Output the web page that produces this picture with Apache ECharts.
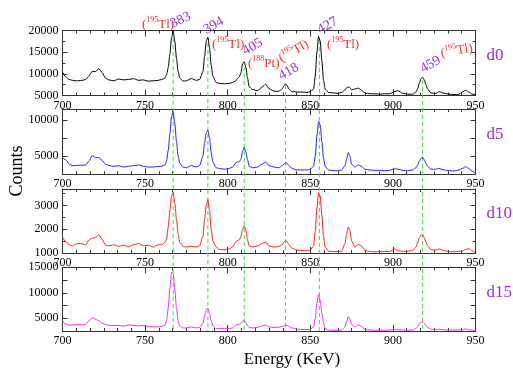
<!DOCTYPE html>
<html>
<head>
<meta charset="utf-8">
<script src="https://cdn.jsdelivr.net/npm/echarts@6/dist/echarts.min.js"></script>
<style>html,body{margin:0;padding:0;background:#fff}#c{width:513px;height:369px}</style>
</head>
<body>
<div id="c"></div>
<script>
// ---------------- data ----------------
const energy = [700,702,704,706,708,710,712,714,716,718,720,722,724,726,728,731,734,737,740,743,746,749,752,755,758,
760,762,763,764,765,766,767,768,769,770,771,773,
775,778,781,783,785,786,787,788,789,790,791,793,
795,798,801,803,805,806,807,808,809,810,811,812,813,
815,818,821,823,825,828,831,833,834,835,836,837,839,
842,845,848,850,852,853,854,855,856,857,858,859,861,
864,867,869,871,872,873,874,875,877,879,881,883,
886,889,892,895,898,901,903,906,909,912,914,915,916,917,918,919,920,921,923,
926,928,931,934,937,940,942,944,946,948,950];

const countsD0 = [10400,9300,8700,8500,8400,8400,8500,8700,9500,10600,10500,11200,10300,9000,8600, 8400,8800,8600,8700,8900,8500,8600,8300,8400,8500,
8700,9000,9800,11500,14500,18300,19900,17500,13500,10500,9000,8300,
8400,8900,8500,8700,10500,14000,17500,18500,16000,12000,9500,8000,
7800,7700,7800,8000,8400,9000,9300,10200,12300,12800,11500,9000,7000,
6400,6100,7000,7600,6600,6000,6000,6500,7200,7700,7300,6500,5900,
5800,5800,5700,5900,6500,9500,15000,18600,17600,13000,8500,6500,5700,
5600,5500,5700,6300,6800,7000,6800,6300,6500,6700,6200,5600,
5400,5400,5300,5400,5400,5900,6100,5500,5300,5300,5800,6600,7800,8900,9200,8600,7500,6500,5600,
5500,5900,5500,5300,5200,5300,5800,6200,5800,5300,5200];

const countsD5 = [4800,4500,3900,3700,3700,3750,3750,3800,4300,5100,4800,4800,4400,3900,3700, 3600,3700,3500,3600,3700,3800,3600,3500,3500,3600,
3600,3800,4300,5800,8000,10500,11100,9500,7000,5000,4000,3500,
3400,3700,3500,3700,5000,6800,8200,8600,7500,5500,4200,3400,
3300,3200,3300,3500,4100,4200,4200,4600,5700,6200,5600,4500,3600,
3400,3500,3900,4200,3700,3500,3400,3700,3900,4100,4000,3700,3300,
3100,3100,3100,3200,3600,5000,7800,9800,9300,7000,4800,3600,3100,
3000,3000,3100,3700,4600,5500,5000,3900,3500,3800,3600,3200,
3100,3050,3050,3000,3050,3250,3200,3050,3000,3100,3400,3800,4300,4700,4850,4500,4000,3600,3200,
3200,3300,3100,3000,2950,3100,3300,3550,3300,2900,2650];

const countsD10 = [1670,1480,1350,1290,1380,1400,1390,1330,1550,1620,1660,1770,1580,1330,1300, 1350,1280,1330,1260,1350,1400,1300,1330,1250,1350,
1350,1450,1600,2100,2800,3400,3550,3100,2400,1800,1450,1280,
1250,1280,1250,1300,1700,2400,3000,3250,2800,2000,1500,1250,
1150,1130,1180,1250,1480,1520,1550,1700,2000,2150,1950,1550,1300,
1250,1300,1400,1460,1300,1250,1270,1350,1450,1530,1480,1350,1200,
1120,1110,1100,1120,1300,1900,2900,3550,3400,2600,1700,1250,1080,
1060,1070,1080,1400,1800,2100,1950,1500,1250,1360,1300,1120,
1060,1050,1060,1060,1060,1170,1100,1070,1080,1100,1250,1450,1650,1760,1770,1650,1450,1300,1150,
1120,1170,1100,1060,1050,1070,1080,1150,1180,1100,990];

const countsD15 = [4400,3900,3650,3700,3750,3750,3700,3800,4500,5100,4800,4500,4000,3800,3600, 3550,3600,3450,3700,3600,3500,3600,3400,3300,3300,
3400,3600,4500,7000,11000,14000,13800,10500,7000,4500,3500,3100,
3100,3300,3100,3200,4000,5500,6700,7000,6000,4500,3500,3000,
3000,2950,3000,3100,3600,3800,3800,4000,4400,4550,4200,3600,3200,
3100,3200,3500,3650,3300,3200,3250,3350,3500,3650,3600,3400,3100,
2850,2800,2800,2850,3300,5000,8000,9600,8500,6000,4000,3000,2700,
2650,2650,2700,3300,4400,5300,4900,3800,3300,3700,3400,2800,
2700,2650,2650,2650,2700,2800,2750,2700,2650,2700,3000,3400,3900,4250,4300,4000,3600,3200,2850,
2800,2850,2750,2700,2700,2700,2750,2900,2750,2650,2500];

const panelNames = ['d0', 'd5', 'd10', 'd15'];
const yMins = [5000, 2500, 1000, 2500];
const yMaxs = [20000, 11500, 3700, 15000];
const yIntervals = [5000, 2500, 1000, 2500];
const yLabelStep = [5000, 5000, 1000, 5000];
const xTicks = [700, 750, 800, 850, 900, 950];

// reference lines (energy, start count in top panel)
const refLineEnergy = [767, 788, 810, 835, 855.5, 918];
const refLineStart = [18270, 17120, 11580, 7420, 17810, 8580];

// annotations in top panel data coordinates
const annotText = ['383', '394', '405', '418', '427', '459'];
const annotEnergy = [767.5, 788.1, 811.7, 833.5, 857.1, 919.4];
const annotCount = [19900, 18500, 13650, 7890, 18500, 9500];
const annotRot = [25, 30, 30, 30, 30, 30];

const isoMass = ['195', '195', '188', '195', '195', '195'];
const isoElem = ['Tl', 'Tl', 'Pt', 'Tl', 'Tl', 'Tl'];
const isoEnergy = [748.1, 790.5, 812.3, 833.5, 860.1, 929.7];
const isoCount = [19900, 15270, 10890, 12040, 15270, 13190];
const isoRot = [0, 0, 0, 30, 0, 10];

// ---------------- chart ----------------
const FONT = "'Liberation Serif', 'Times New Roman', serif";
const lineColors = ['#000000', '#2222ff', '#ff2020', '#ff22ff'];
const gridTops = [30.5, 109, 189, 267.3];
const gridHeights = [65, 65.3, 64, 63.7];
const PURPLE = '#9a2fd6';
const RED = '#ff2a2a';
const AXC = '#333';

const chart = echarts.init(document.getElementById('c'), null, {renderer: 'canvas'});

const grids = [], xAxes = [], yAxes = [], series = [];
const dataSets = [countsD0, countsD5, countsD10, countsD15];
for (let i = 0; i < 4; i++) {
  grids.push({left: 62.5, right: 37.5, top: gridTops[i], height: gridHeights[i]});
}
for (let i = 0; i < 4; i++) {
  xAxes.push({
    type: 'value', gridIndex: i, min: 700, max: 950, interval: 50, position: 'bottom',
    axisLine: {show: true, lineStyle: {color: AXC, width: 1}},
    axisTick: {show: true, inside: true, length: 6, lineStyle: {color: AXC}},
    minorTick: {show: true, splitNumber: 6, length: 3, lineStyle: {color: AXC}},
    axisLabel: {show: true, margin: 4, fontFamily: FONT, fontSize: 12, color: '#000',
      customValues: xTicks, showMinLabel: true, showMaxLabel: true},
    splitLine: {show: false}
  });
}
for (let i = 0; i < 4; i++) {
  xAxes.push({
    type: 'value', gridIndex: i, min: 700, max: 950, interval: 50, position: 'top',
    axisLine: {show: true, lineStyle: {color: AXC, width: 1}},
    axisTick: {show: true, inside: true, length: 6, lineStyle: {color: AXC}},
    minorTick: {show: true, splitNumber: 6, length: 3, lineStyle: {color: AXC}},
    axisLabel: {show: false},
    splitLine: {show: false}
  });
}
for (let side = 0; side < 2; side++) {
  for (let i = 0; i < 4; i++) {
    const step = yLabelStep[i];
    yAxes.push({
      type: 'value', gridIndex: i, min: yMins[i], max: yMaxs[i], interval: yIntervals[i],
      position: side === 0 ? 'left' : 'right',
      axisLine: {show: true, lineStyle: {color: AXC, width: 1}},
      axisTick: {show: true, inside: true, length: 5, lineStyle: {color: AXC}},
      minorTick: {show: yIntervals[i] !== 2500, splitNumber: 2, length: 3, lineStyle: {color: AXC}},
      axisLabel: {show: side === 0, margin: 4, fontFamily: FONT, fontSize: 12, color: '#000',
        formatter: v => (v % step === 0 ? String(v) : '')},
      splitLine: {show: false}
    });
  }
}
for (let i = 0; i < 4; i++) {
  series.push({
    type: 'line', xAxisIndex: i, yAxisIndex: i,
    data: energy.map((e, k) => [e, dataSets[i][k]]),
    showSymbol: false, symbol: 'none',
    smooth: 0.25, smoothMonotone: 'x',
    lineStyle: {color: lineColors[i], width: 1},
    clip: true, z: 3, animation: false
  });
}

chart.setOption({
  animation: false,
  backgroundColor: '#fff',
  grid: grids, xAxis: xAxes, yAxis: yAxes, series: series
});

// ---------------- overlays (positions from the chart's own scales) ----------------
const gfx = [];
const yBottom = chart.convertToPixel({yAxisIndex: 3}, yMins[3]);
refLineEnergy.forEach((e, i) => {
  const x = chart.convertToPixel({xAxisIndex: 0}, e);
  const y1 = chart.convertToPixel({yAxisIndex: 0}, refLineStart[i]);
  gfx.push({type: 'line', z: 1, silent: true,
    shape: {x1: x, y1: y1, x2: x, y2: yBottom},
    style: {stroke: '#2ee82e', lineWidth: 1, lineDash: [4, 3]}});
});
annotText.forEach((t, i) => {
  const p = chart.convertToPixel({gridIndex: 0}, [annotEnergy[i], annotCount[i]]);
  gfx.push({type: 'text', x: p[0], y: p[1], rotation: annotRot[i] * Math.PI / 180, z: 10,
    style: {text: t, fill: PURPLE, font: '14px ' + FONT, align: 'left', verticalAlign: 'bottom'}});
});
isoMass.forEach((m, i) => {
  const p = chart.convertToPixel({gridIndex: 0}, [isoEnergy[i], isoCount[i]]);
  gfx.push({type: 'text', x: p[0], y: p[1], rotation: isoRot[i] * Math.PI / 180, z: 10,
    style: {
      text: '{p|(}{s|' + m + '}{p|' + isoElem[i] + ')}',
      align: 'left', verticalAlign: 'bottom',
      rich: {
        p: {fill: RED, fontSize: 13, fontFamily: FONT, lineHeight: 15, verticalAlign: 'bottom'},
        s: {fill: RED, fontSize: 8, fontFamily: FONT, lineHeight: 9, verticalAlign: 'top'}
      }
    }});
});
panelNames.forEach((n, i) => {
  const yMid = chart.convertToPixel({yAxisIndex: i}, (yMins[i] + yMaxs[i]) / 2);
  const xR = chart.convertToPixel({xAxisIndex: i}, 950);
  gfx.push({type: 'text', x: xR + 11, y: yMid - 7, z: 10,
    style: {text: n, fill: PURPLE, font: '17px ' + FONT, align: 'left', verticalAlign: 'middle'}});
});
gfx.push({type: 'text', x: 17, y: 171, rotation: Math.PI / 2, z: 10,
  style: {text: 'Counts', fill: '#000', font: '18px ' + FONT, align: 'center', verticalAlign: 'middle'}});
gfx.push({type: 'text', x: 292, y: 360, z: 10,
  style: {text: 'Energy (KeV)', fill: '#000', font: '17px ' + FONT, align: 'center', verticalAlign: 'middle'}});

chart.setOption({graphic: {elements: gfx}});
</script>
</body>
</html>
